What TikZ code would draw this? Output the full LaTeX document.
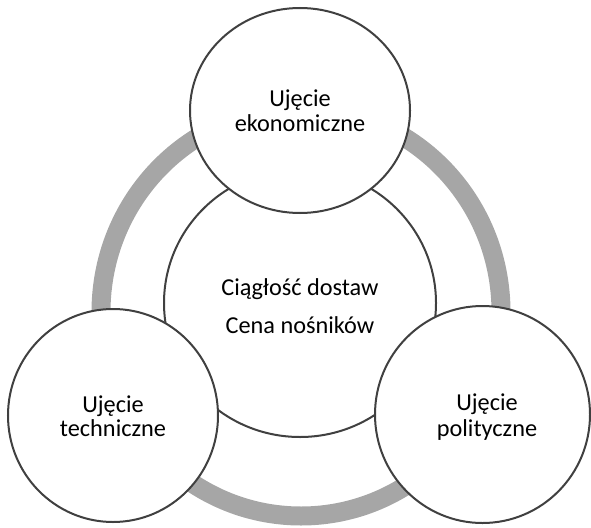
\documentclass[tikz,border=0pt]{standalone}
\usepackage{fontspec}
\setmainfont{Carlito}
\usetikzlibrary{shapes.geometric}
\definecolor{linegray}{HTML}{404040}
\definecolor{ringgray}{HTML}{A6A6A6}
\begin{document}
\begin{tikzpicture}[x=1pt,y=-1pt,
  bubble/.style={ellipse, draw=linegray, line width=2pt, fill=white, inner sep=0pt},
  lbl/.style={font=\fontsize{24.3}{25}\selectfont, anchor=base, inner sep=0pt, text=black}]
\useasboundingbox (0,0) rectangle (591,527);
\draw[ringgray, line width=19pt] (301,312) ellipse [x radius=200pt, y radius=204pt];
\node[bubble, minimum width=272pt, minimum height=268pt] (core) at (300,303) {};
\node[bubble, minimum width=220pt, minimum height=205pt] (eko) at (300,110.5) {};
\node[bubble, minimum width=210pt, minimum height=213pt] (tech) at (113,415.5) {};
\node[bubble, minimum width=215pt, minimum height=217pt] (pol) at (482.5,414.5) {};
\node[lbl] (core1) at (300,295) {Ciągłość dostaw};
\node[lbl] (core2) at (300,333) {Cena nośników};
\node[lbl] (eko1) at (300,106) {Ujęcie};
\node[lbl] (eko2) at (300,131) {ekonomiczne};
\node[lbl] (tech1) at (113,412) {Ujęcie};
\node[lbl] (tech2) at (113,436) {techniczne};
\node[lbl] (pol1) at (487,410) {Ujęcie};
\node[lbl] (pol2) at (487,436) {polityczne};
\end{tikzpicture}
\end{document}
